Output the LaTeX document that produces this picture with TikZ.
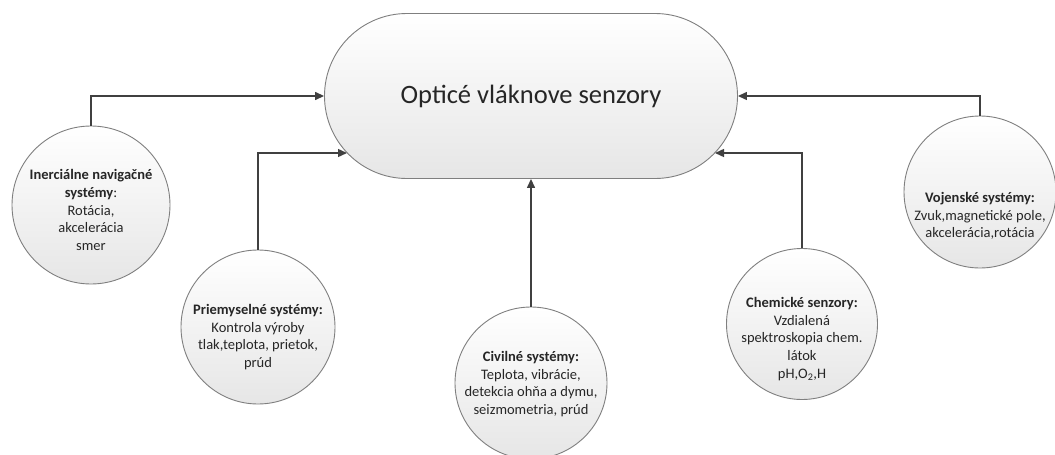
\documentclass[tikz,border=0pt]{standalone}
\usepackage{fontspec}
\setmainfont{Carlito}
\usetikzlibrary{arrows.meta}
\definecolor{txt}{HTML}{262626}
\definecolor{bord}{HTML}{7F7F7F}
\definecolor{conn}{HTML}{404040}
\definecolor{shade}{HTML}{E6E6E6}
\begin{document}
\begin{tikzpicture}[x=1pt,y=-1pt,
  circ/.style={circle,draw=bord,line width=0.9pt,top color=white,bottom color=shade,inner sep=0pt},
  lbl/.style={align=center,text=txt,font=\fontsize{14.5}{17.8}\selectfont,inner sep=0pt},
  arr/.style={draw=conn,line width=1.4pt,-{Triangle[length=9pt,width=8pt]}}]
\useasboundingbox (0,0) rectangle (1055,455);
\node[draw=bord,line width=0.9pt,top color=white,bottom color=shade,rounded corners=82.5pt,
  minimum width=413pt,minimum height=165pt,inner sep=0pt,text=txt,
  font=\fontsize{26.5}{31}\selectfont] (main) at (531,96) {Opticé vláknove senzory};
\node[circ,minimum size=158pt] (c1) at (91,205) {};
\node[circ,minimum size=154pt] (c2) at (258,327) {};
\node[circ,minimum size=152pt] (c3) at (531,383) {};
\node[circ,minimum size=151pt] (c4) at (802,324) {};
\node[circ,minimum size=152pt] (c5) at (980,192) {};
\node[lbl] (t1) at (91,210) {\textbf{Inerciálne navigačné}\\\textbf{systémy}:\\Rotácia,\\akcelerácia\\smer};
\node[lbl] (t2) at (258,337) {\textbf{Priemyselné systémy:}\\Kontrola výroby\\tlak,teplota, prietok,\\prúd};
\node[lbl] (t3) at (531,384) {\textbf{Civilné systémy:}\\Teplota, vibrácie,\\detekcia ohňa a dymu,\\seizmometria, prúd};
\node[lbl] (t4) at (802,339) {\textbf{Chemické senzory:}\\Vzdialená\\spektroskopia chem.\\látok\\pH,O\textsubscript{2},H};
\node[lbl] (t5) at (980,216) {\textbf{Vojenské systémy:}\\Zvuk,magnetické pole,\\akcelerácia,rotácia};
\coordinate (mL) at (347,153);
\coordinate (mR) at (715,153);
\draw[arr] (c1.north) |- (main.west);
\draw[arr] (c2.north) |- (mL);
\draw[arr] (c3.north) -- (main.south);
\draw[arr] (c4.north) |- (mR);
\draw[arr] (c5.north) |- (main.east);
\end{tikzpicture}
\end{document}
